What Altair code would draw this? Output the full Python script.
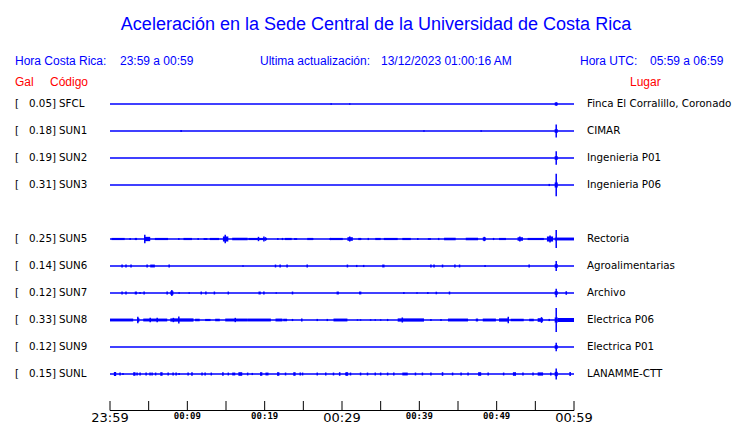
import altair as alt
import pandas as pd

BLUE = "#0000ff"
RED = "#ff0000"

# ---- stations ----
CODES = ["SFCL", "SUN1", "SUN2", "SUN3", "SUN5", "SUN6", "SUN7", "SUN8", "SUN9", "SUNL"]
ROWS = [0, 1, 2, 3, 5, 6, 7, 8, 9, 10]
PEAK_GAL = [0.05, 0.18, 0.19, 0.31, 0.25, 0.14, 0.12, 0.33, 0.12, 0.15]
PLACES = ["Finca El Corralillo, Coronado", "CIMAR", "Ingenieria P01", "Ingenieria P06",
          "Rectoria", "Agroalimentarias", "Archivo", "Electrica P06", "Electrica P01",
          "LANAMME-CTT"]
EVENT_MIN = 57.7   # minutes after 23:59 of the main event

# ---- axis ----
TICK_MIN = [0, 5, 10, 15, 20, 25, 30, 35, 40, 45, 50, 55, 60]
BIG_LABEL_MIN = [0, 30, 60]
BIG_LABELS = ["23:59", "00:29", "00:59"]
SMALL_LABEL_MIN = [10, 20, 40, 50]
SMALL_LABELS = ["00:09", "00:19", "00:39", "00:49"]

# ---- traces: spikes (minute, half amplitude Gal) and bursts (from, to, half amplitude Gal) ----
SFCL_SPIKES = [(28.6, 0.02), (31.0, 0.02)]
SFCL_BURSTS = [(57.5, 57.9, 0.04)]

SUN1_SPIKES = [(9.2, 0.03), (40.6, 0.02), (48.0, 0.02)]
SUN1_BURSTS = [(57.5, 57.9, 0.05)]

SUN2_SPIKES = []
SUN2_BURSTS = [(57.5, 57.9, 0.05)]

SUN3_SPIKES = [(56.8, 0.03)]
SUN3_BURSTS = [(57.5, 57.9, 0.07)]

SUN5_SPIKES = [(2.6, 0.03), (4.5, 0.12), (8.9, 0.03), (11.4, 0.03), (14.9, 0.12), (19.2, 0.06),
               (19.9, 0.07), (20.1, 0.05), (21.7, 0.03), (22.3, 0.03), (28.5, 0.03), (31.0, 0.07),
               (33.4, 0.03), (39.8, 0.03), (42.5, 0.03), (48.4, 0.06), (49.6, 0.03), (53.0, 0.07),
               (56.9, 0.10)]
SUN5_BURSTS = [(0.2, 1.9, 0.03), (3.2, 3.5, 0.03), (4.4, 5.2, 0.06), (5.8, 7.5, 0.03),
               (9.5, 10.6, 0.03), (12.1, 12.6, 0.025), (12.9, 14.1, 0.03), (14.6, 15.3, 0.07),
               (15.8, 17.8, 0.035), (17.9, 20.3, 0.03), (22.6, 23.5, 0.03), (23.8, 24.2, 0.025),
               (25.5, 26.3, 0.03), (28.4, 30.1, 0.03), (30.7, 31.4, 0.05), (32.1, 32.5, 0.03),
               (34.3, 35.0, 0.03), (35.4, 37.2, 0.03), (37.8, 38.9, 0.03), (41.1, 41.5, 0.025),
               (43.2, 44.7, 0.035), (46.0, 47.6, 0.035), (48.2, 48.6, 0.045), (50.3, 51.2, 0.03),
               (52.7, 53.4, 0.05), (54.0, 56.1, 0.03), (56.5, 57.3, 0.07), (57.5, 60.0, 0.04)]

SUN6_SPIKES = [(1.56, 0.04), (2.07, 0.04), (2.72, 0.04), (4.8, 0.04), (7.65, 0.04), (17.2, 0.02),
               (21.4, 0.04), (22.0, 0.04), (22.9, 0.04), (25.5, 0.04), (30.7, 0.04), (31.9, 0.03),
               (32.8, 0.03), (41.5, 0.04), (41.9, 0.04), (43.0, 0.04), (44.6, 0.04), (45.2, 0.04),
               (48.5, 0.03)]
SUN6_BURSTS = [(5.2, 5.8, 0.04), (35.2, 35.5, 0.04), (54.1, 54.3, 0.04), (57.5, 57.9, 0.05)]

SUN7_SPIKES = [(1.56, 0.04), (2.07, 0.04), (3.89, 0.03), (4.41, 0.04), (7.39, 0.04), (8.0, 0.08),
               (8.94, 0.02), (10.24, 0.02), (11.8, 0.04), (12.4, 0.04), (13.5, 0.04), (15.3, 0.04),
               (21.5, 0.02), (23.6, 0.04), (38.0, 0.03), (39.7, 0.02), (41.1, 0.03), (43.9, 0.04)]
SUN7_BURSTS = [(3.2, 3.5, 0.04), (7.8, 8.2, 0.05), (19.2, 19.5, 0.04), (19.8, 20.0, 0.04),
               (29.3, 29.6, 0.04), (32.2, 32.5, 0.04), (42.1, 42.3, 0.035), (57.5, 57.9, 0.05),
               (58.9, 59.1, 0.05)]

SUN8_SPIKES = [(3.6, 0.09), (5.2, 0.06), (6.1, 0.06), (8.2, 0.06), (8.9, 0.10), (16.2, 0.06),
               (23.6, 0.03), (26.8, 0.03), (28.1, 0.03), (32.0, 0.02), (32.4, 0.02), (33.7, 0.02),
               (34.3, 0.02), (35.0, 0.02), (35.9, 0.03), (37.8, 0.07), (41.5, 0.03), (42.8, 0.03),
               (51.5, 0.09), (55.8, 0.08), (56.8, 0.03)]
SUN8_BURSTS = [(0.0, 3.0, 0.04), (3.5, 3.8, 0.05), (4.3, 7.4, 0.04), (7.8, 10.8, 0.045),
               (11.0, 11.6, 0.035), (12.3, 13.0, 0.03), (13.6, 14.2, 0.035), (14.9, 17.8, 0.04),
               (17.8, 20.8, 0.04), (21.4, 22.3, 0.04), (22.4, 22.9, 0.035), (24.7, 24.9, 0.04),
               (28.9, 30.7, 0.04), (37.2, 40.6, 0.045), (43.7, 46.3, 0.04), (47.3, 47.6, 0.04),
               (48.2, 49.9, 0.04), (50.3, 51.6, 0.045), (51.8, 53.5, 0.035), (54.2, 54.8, 0.035),
               (55.3, 56.0, 0.05), (57.5, 57.9, 0.07), (57.9, 60.0, 0.055)]

SUN9_SPIKES = []
SUN9_BURSTS = [(57.5, 57.9, 0.05)]

SUNL_SPIKES = [(1.30, 0.04), (1.68, 0.03), (3.5, 0.04), (3.89, 0.04), (4.67, 0.04), (5.18, 0.04),
               (5.44, 0.04), (5.9, 0.04), (7.52, 0.04), (8.16, 0.04), (8.55, 0.04), (8.94, 0.03),
               (10.1, 0.04), (11.9, 0.04), (12.3, 0.04), (13.1, 0.04), (15.3, 0.04), (17.8, 0.04),
               (18.4, 0.03), (22.7, 0.04), (24.6, 0.04), (24.9, 0.04), (26.8, 0.04), (27.9, 0.04),
               (28.9, 0.04), (30.5, 0.04), (31.1, 0.04), (32.4, 0.04), (33.3, 0.04), (34.3, 0.04),
               (35.0, 0.04), (35.9, 0.04), (36.7, 0.04), (39.5, 0.04), (40.4, 0.04), (41.5, 0.04),
               (44.3, 0.04), (45.4, 0.04), (46.3, 0.04), (48.9, 0.04), (50.9, 0.04), (53.4, 0.04),
               (54.7, 0.04), (57.0, 0.04)]
SUNL_BURSTS = [(0.5, 0.8, 0.055), (3.0, 3.3, 0.05), (6.5, 6.8, 0.05), (10.5, 10.7, 0.05),
               (14.5, 14.7, 0.05), (15.8, 16.2, 0.04), (16.6, 17.1, 0.05), (19.4, 19.7, 0.05),
               (20.1, 20.5, 0.04), (21.6, 21.9, 0.05), (23.7, 24.0, 0.05), (29.6, 29.8, 0.05),
               (30.5, 30.8, 0.05), (37.8, 38.5, 0.04), (42.9, 43.1, 0.05), (47.6, 48.0, 0.05),
               (52.1, 52.5, 0.05), (55.3, 56.0, 0.045), (57.5, 57.9, 0.06), (59.4, 59.6, 0.055)]

SPIKE_LISTS = [SFCL_SPIKES, SUN1_SPIKES, SUN2_SPIKES, SUN3_SPIKES, SUN5_SPIKES,
               SUN6_SPIKES, SUN7_SPIKES, SUN8_SPIKES, SUN9_SPIKES, SUNL_SPIKES]
BURST_LISTS = [SFCL_BURSTS, SUN1_BURSTS, SUN2_BURSTS, SUN3_BURSTS, SUN5_BURSTS,
               SUN6_BURSTS, SUN7_BURSTS, SUN8_BURSTS, SUN9_BURSTS, SUNL_BURSTS]

ROW_GAL = 0.75  # vertical spacing between traces, in Gal

# ---- build tables ----
base_rows, spike_rows, burst_rows, label_rows = [], [], [], []
for code, row, peak, place, spikes, bursts in zip(CODES, ROWS, PEAK_GAL, PLACES,
                                                    SPIKE_LISTS, BURST_LISTS):
    y0 = -row * ROW_GAL
    base_rows.append({"code": code, "t0": 0.0, "t1": 60.0, "y": y0})
    label_rows.append({"code": code, "y": y0, "gal": f"{peak:.2f}]", "place": place})
    for t, a in list(spikes) + [(EVENT_MIN, peak)]:
        spike_rows.append({"code": code, "t": t, "lo": y0 - a, "hi": y0 + a})
    for t0, t1, a in bursts:
        burst_rows.append({"code": code, "t0": t0, "t1": t1, "lo": y0 - a, "hi": y0 + a})

base_df = pd.DataFrame(base_rows)
spike_df = pd.DataFrame(spike_rows)
burst_df = pd.DataFrame(burst_rows)
label_df = pd.DataFrame(label_rows)
tick_df = pd.DataFrame({"t": TICK_MIN})
axis_df = pd.DataFrame({"t0": [TICK_MIN[0]], "t1": [TICK_MIN[-1]]})
big_df = pd.DataFrame({"t": BIG_LABEL_MIN, "lab": BIG_LABELS})
small_df = pd.DataFrame({"t": SMALL_LABEL_MIN, "lab": SMALL_LABELS})
one = pd.DataFrame({"k": [0]})

XS = alt.Scale(domain=[0, 60], range=[102, 566])
YS = alt.Scale(domain=[-10 * ROW_GAL, 0], range=[366, 96])

baselines = alt.Chart(base_df).mark_rule(color=BLUE, strokeWidth=1.5).encode(
    x=alt.X("t0:Q", scale=XS, axis=None), x2="t1:Q",
    y=alt.Y("y:Q", scale=YS, axis=None))

bursts = alt.Chart(burst_df).mark_rect(color=BLUE).encode(
    x=alt.X("t0:Q", scale=XS, axis=None), x2="t1:Q",
    y=alt.Y("lo:Q", scale=YS, axis=None), y2="hi:Q")

spikes = alt.Chart(spike_df).mark_rule(color=BLUE, strokeWidth=1.5).encode(
    x=alt.X("t:Q", scale=XS, axis=None),
    y=alt.Y("lo:Q", scale=YS, axis=None), y2="hi:Q")

LFONT = "DejaVu Sans"
LSIZE = 10.3
bracket = alt.Chart(label_df).mark_text(align="left", baseline="middle",
                                        font=LFONT, fontSize=LSIZE, color="black").encode(
    x=alt.value(7), y=alt.Y("y:Q", scale=YS, axis=None), text=alt.value("["))
galtxt = alt.Chart(label_df).mark_text(align="right", baseline="middle",
                                       font=LFONT, fontSize=LSIZE, color="black").encode(
    x=alt.value(48), y=alt.Y("y:Q", scale=YS, axis=None), text="gal:N")
codetxt = alt.Chart(label_df).mark_text(align="left", baseline="middle",
                                        font=LFONT, fontSize=LSIZE, color="black").encode(
    x=alt.value(51), y=alt.Y("y:Q", scale=YS, axis=None), text="code:N")
placetxt = alt.Chart(label_df).mark_text(align="left", baseline="middle",
                                         font=LFONT, fontSize=LSIZE, color="black").encode(
    x=alt.value(579), y=alt.Y("y:Q", scale=YS, axis=None), text="place:N")

# ---- time axis ----
axis_line = alt.Chart(axis_df).mark_rule(color="black", strokeWidth=1).encode(
    x=alt.X("t0:Q", scale=XS, axis=None), x2="t1:Q", y=alt.value(402.5))
axis_ticks = alt.Chart(tick_df).mark_rule(color="black", strokeWidth=1).encode(
    x=alt.X("t:Q", scale=XS, axis=None), y=alt.value(393), y2=alt.value(402.5))
big_labels = alt.Chart(big_df).mark_text(baseline="middle", align="center",
                                         font="DejaVu Sans", fontSize=13, color="black").encode(
    x=alt.X("t:Q", scale=XS, axis=None), y=alt.value(409.5), text="lab:N")
small_labels = alt.Chart(small_df).mark_text(baseline="middle", align="center",
                                             font="DejaVu Sans Mono", fontSize=9,
                                             fontWeight="bold", color="black").encode(
    x=alt.X("t:Q", scale=XS, axis=None), y=alt.value(407.5), text="lab:N")


def txt(s, x, y, size=12, color=BLUE, align="left", font="Liberation Sans"):
    return alt.Chart(one).mark_text(align=align, baseline="middle", fontSize=size,
                                    color=color, font=font).encode(
        x=alt.value(x), y=alt.value(y), text=alt.value(s))


header = [
    txt("Aceleración en la Sede Central de la Universidad de Costa Rica", 368, 16.5, size=18,
        align="center"),
    txt("Hora Costa Rica:", 7, 53),
    txt("23:59 a 00:59", 112, 53),
    txt("Ultima actualización:", 252, 53),
    txt("13/12/2023 01:00:16 AM", 373, 53),
    txt("Hora UTC:", 572, 53),
    txt("05:59 a 06:59", 642, 53),
    txt("Gal", 7, 73.5, color=RED),
    txt("Código", 42, 73.5, color=RED),
    txt("Lugar", 622, 73.5, color=RED),
]

chart = alt.layer(
    baselines, bursts, spikes, bracket, galtxt, codetxt, placetxt,
    axis_line, axis_ticks, big_labels, small_labels, *header
).properties(
    width=724, height=415, padding=0,
    autosize=alt.AutoSizeParams(type="none"),
    background="white",
).configure_view(strokeWidth=0)

chart.save("out.html", embed_options={"renderer": "svg", "actions": False})
